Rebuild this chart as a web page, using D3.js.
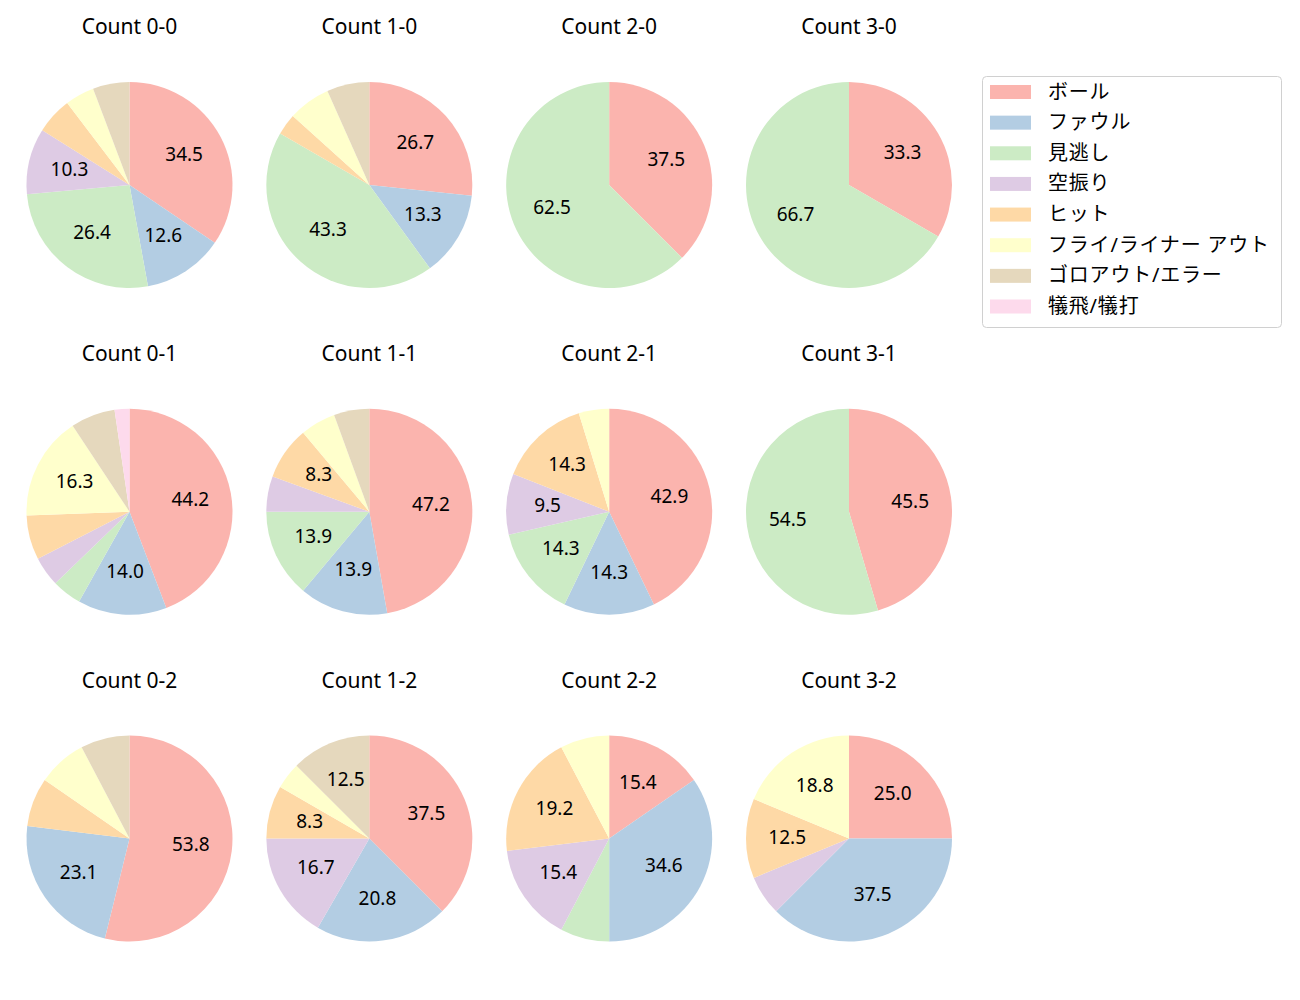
<!DOCTYPE html>
<html>
<head>
<meta charset="utf-8">
<script src="https://cdn.jsdelivr.net/npm/d3@7"></script>
<style>
  body { margin: 0; background: #fff; }
  svg { font-family: "Noto Sans", "Noto Sans CJK JP", sans-serif; }
</style>
</head>
<body>
<div id="chart"></div>
<script>
// counts in grid order (row by row)
const counts = ['0-0', '1-0', '2-0', '3-0', '0-1', '1-1', '2-1', '3-1', '0-2', '1-2', '2-2', '3-2'];
const categories = ['ボール', 'ファウル', '見逃し', '空振り', 'ヒット', 'フライ/ライナー アウト', 'ゴロアウト/エラー', '犠飛/犠打'];
const colors = ['#fbb4ae', '#b3cde3', '#ccebc5', '#decbe4', '#fed9a6', '#ffffcc', '#e5d8bd', '#fddaec'];

// pitches per result, one value per count
const ball   = [30, 8, 3, 1, 19, 17, 9, 5, 14, 9, 4, 4];
const foul   = [11, 4, 0, 0, 6, 5, 3, 0, 6, 5, 9, 6];
const miss   = [23, 13, 5, 2, 2, 5, 3, 6, 0, 0, 2, 0];
const swing  = [9, 0, 0, 0, 2, 2, 2, 0, 0, 4, 4, 1];
const hit    = [5, 1, 0, 0, 3, 3, 3, 0, 2, 2, 5, 2];
const fly    = [4, 2, 0, 0, 7, 2, 1, 0, 2, 1, 2, 3];
const ground = [5, 2, 0, 0, 3, 2, 0, 0, 2, 3, 0, 0];
const sac    = [0, 0, 0, 0, 1, 0, 0, 0, 0, 0, 0, 0];
const series = [ball, foul, miss, swing, hit, fly, ground, sac];

const width = 1300;
const height = 1000;
const radius = 103;
const minLabel = 8; // percent

const svg = d3.select('#chart').append('svg')
  .attr('width', width)
  .attr('height', height);

const colX = d3.scalePoint().domain([0, 1, 2, 3]).range([129.5, 849]);
const rowY = d3.scalePoint().domain([0, 1, 2]).range([185, 838.5]);
const color = d3.scaleOrdinal().domain(categories).range(colors);

const pie = d3.pie().sort(null).value(d => d.value);
const arc = d3.arc().innerRadius(0).outerRadius(radius);
const labelArc = d3.arc().innerRadius(radius * 0.6).outerRadius(radius * 0.6);

counts.forEach((name, i) => {
  const col = i % 4;
  const row = Math.floor(i / 4);
  const data = categories.map((c, k) => ({ cat: c, value: series[k][i] }));
  const total = d3.sum(data, d => d.value);

  const g = svg.append('g')
    .attr('transform', `translate(${colX(col)},${rowY(row)})`);

  g.append('text')
    .attr('x', 0)
    .attr('y', -radius - 56)
    .attr('text-anchor', 'middle')
    .attr('dominant-baseline', 'central')
    .style('font-size', '21px')
    .attr('fill', '#000')
    .text(`Count ${name}`);

  const arcs = pie(data).filter(d => d.data.value > 0);

  g.selectAll('path.slice')
    .data(arcs)
    .enter().append('path')
    .classed('slice', true)
    .attr('d', arc)
    .attr('fill', d => color(d.data.cat));

  // matplotlib centres the full text box, so digits sit a little high
  g.selectAll('text.pct')
    .data(arcs.filter(d => d.data.value / total * 100 >= minLabel))
    .enter().append('text')
    .classed('pct', true)
    .attr('transform', d => {
      const [x, y] = labelArc.centroid(d);
      return `translate(${x},${y - 2})`;
    })
    .attr('text-anchor', 'middle')
    .attr('dominant-baseline', 'central')
    .style('font-size', '19px')
    .attr('fill', '#000')
    .text(d => (d.data.value / total * 100).toFixed(1));
});

// legend
const legend = svg.append('g').attr('transform', 'translate(982,76)');
legend.append('rect')
  .attr('x', 0.5)
  .attr('y', 0.5)
  .attr('width', 299)
  .attr('height', 251)
  .attr('rx', 4)
  .attr('fill', '#fff')
  .attr('stroke', '#d0d0d0');

const rowPos = d3.scaleLinear().domain([0, categories.length - 1]).range([16, 230.5]);
const items = legend.selectAll('g.item')
  .data(categories)
  .enter().append('g')
  .classed('item', true)
  .attr('transform', (d, i) => `translate(0,${rowPos(i)})`);

items.append('rect')
  .attr('x', 8)
  .attr('y', -7)
  .attr('width', 41)
  .attr('height', 14)
  .attr('fill', d => color(d));

items.append('text')
  .attr('x', 66)
  .attr('y', -1)
  .attr('dominant-baseline', 'central')
  .style('font-size', '20px')
  .style('letter-spacing', '0.8px')
  .attr('fill', '#000')
  .text(d => d);
</script>
</body>
</html>
